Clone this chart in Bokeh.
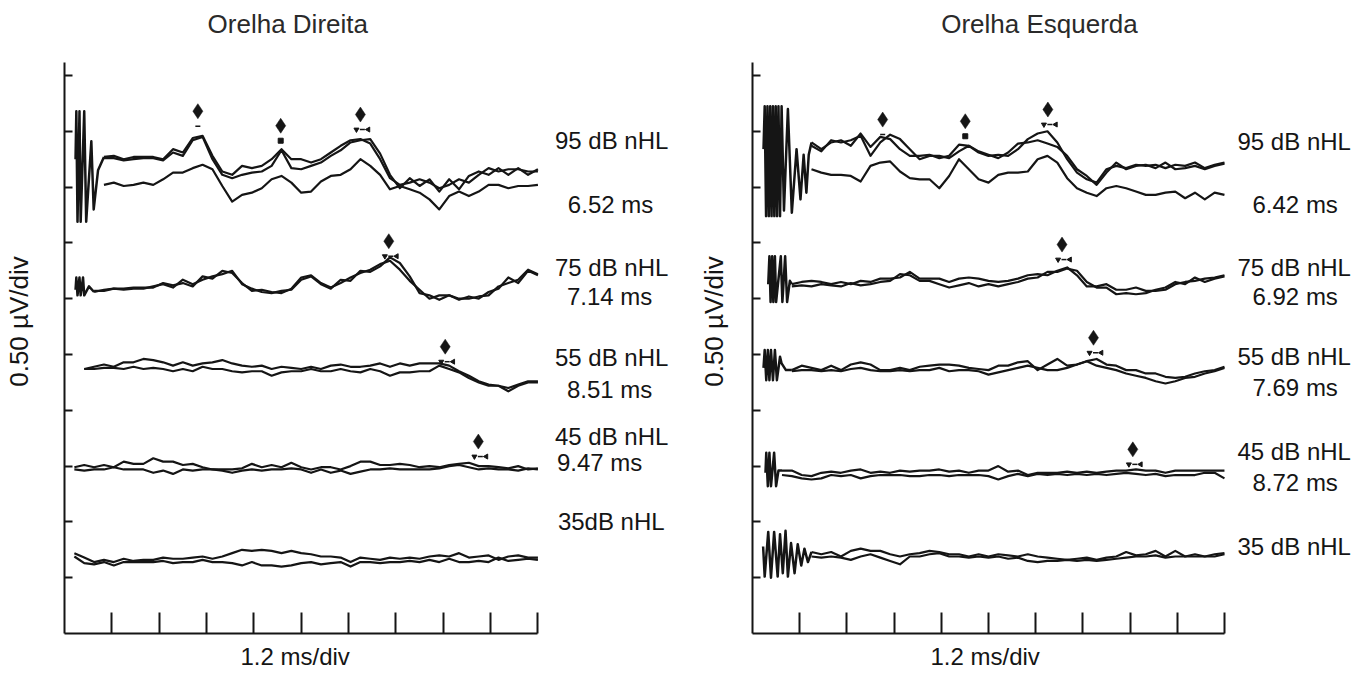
import math
from bokeh.plotting import figure
from bokeh.models import Range1d, FixedTicker, Label, ColumnDataSource, CustomJSTickFormatter, LinearAxis, Title
from bokeh.layouts import row
from bokeh.embed import file_html
from bokeh.resources import INLINE
from bokeh.core.properties import value

# ---------------- data ----------------
TIME = [0.25, 0.5, 0.75, 1.0, 1.25, 1.5, 1.75, 2.0, 2.25, 2.5, 2.75, 3.0,
        3.25, 3.5, 3.75, 4.0, 4.25, 4.5, 4.75, 5.0, 5.25, 5.5, 5.75, 6.0,
        6.25, 6.5, 6.75, 7.0, 7.25, 7.5, 7.75, 8.0, 8.25, 8.5, 8.75, 9.0,
        9.25, 9.5, 9.75, 10.0, 10.25, 10.5, 10.75, 11.0, 11.25, 11.5, 11.75, 12.0]

LEVELS = [95, 75, 55, 45, 35]
LEVEL_LABELS_DIR = ["95 dB nHL", "75 dB nHL", "55 dB nHL", "45 dB nHL", "35dB nHL"]
LEVEL_LABELS_ESQ = ["95 dB nHL", "75 dB nHL", "55 dB nHL", "45 dB nHL", "35 dB nHL"]
LATENCY_DIR = ["6.52 ms", "7.14 ms", "8.51 ms", "9.47 ms"]
LATENCY_ESQ = ["6.42 ms", "6.92 ms", "7.69 ms", "8.72 ms"]

# ---- Orelha Direita (right ear), values in uV relative to each trace's own baseline
DIR_95_A = [0.02, 0.03, 0.0, 0.02, 0.02, 0.02, 0.0, 0.09, 0.06, 0.19, 0.21, 0.03, -0.11, -0.14, -0.06,
            -0.08, -0.06, 0.0, 0.09, 0.0, 0.0, -0.03, 0.0, 0.06, 0.12, 0.17, 0.18, 0.14, 0.0, -0.17,
            -0.23, -0.21, -0.18, -0.21, -0.26, -0.23, -0.18, -0.21, -0.14, -0.08, -0.11, -0.09, -0.09, -0.11, -0.11]
DIR_95_B = [0.01, 0.01, -0.01, 0.0, 0.01, 0.01, -0.01, 0.06, 0.03, 0.17, 0.20, 0.0, -0.14, -0.17, -0.14,
            -0.12, -0.11, -0.06, 0.08, -0.08, -0.09, -0.06, -0.03, 0.03, 0.08, 0.15, 0.17, 0.18, 0.05, -0.14,
            -0.26, -0.17, -0.24, -0.18, -0.29, -0.18, -0.27, -0.15, -0.11, -0.14, -0.08, -0.14, -0.08, -0.14, -0.09]
DIR_95_C = [-0.23, -0.21, -0.24, -0.23, -0.21, -0.23, -0.18, -0.12, -0.12, -0.08, -0.05, -0.09, -0.24, -0.38, -0.32,
            -0.30, -0.26, -0.18, -0.15, -0.21, -0.30, -0.29, -0.20, -0.15, -0.14, -0.09, 0.0, -0.06, -0.14, -0.27,
            -0.24, -0.27, -0.30, -0.36, -0.45, -0.33, -0.29, -0.33, -0.29, -0.23, -0.23, -0.26, -0.24, -0.24, -0.23]
DIR_75_A = [-0.02, 0.0, 0.01, 0.01, 0.02, 0.02, 0.02, 0.06, 0.04, 0.06, 0.03, 0.12, 0.10, 0.17, 0.15, 0.06,
            -0.01, 0.0, -0.02, -0.03, 0.01, 0.11, 0.13, 0.06, 0.02, 0.06, 0.11, 0.15, 0.18, 0.23, 0.26, 0.18,
            0.08, 0.0, -0.08, -0.05, -0.05, -0.08, -0.08, -0.06, -0.05, 0.03, 0.06, 0.09, 0.18, 0.14]
DIR_75_B = [-0.01, -0.01, 0.01, 0.0, 0.01, 0.01, 0.03, 0.05, 0.02, 0.09, 0.05, 0.09, 0.12, 0.14, 0.17, 0.05,
            0.01, -0.02, -0.03, -0.01, 0.0, 0.09, 0.12, 0.05, 0.01, 0.09, 0.08, 0.17, 0.16, 0.21, 0.29, 0.24,
            0.12, -0.03, -0.05, -0.09, -0.05, -0.09, -0.06, -0.08, -0.02, 0.01, 0.11, 0.06, 0.17, 0.13]
DIR_55_A = [0.0, 0.02, 0.04, 0.02, 0.06, 0.06, 0.09, 0.08, 0.06, 0.03, 0.06, 0.03, 0.05, 0.06, 0.08, 0.05,
            0.03, 0.02, 0.03, 0.0, 0.02, 0.01, 0.0, 0.02, 0.0, 0.03, 0.04, 0.02, 0.02, 0.03, 0.05, 0.02,
            0.05, 0.03, 0.05, 0.05, 0.05, 0.03, -0.02, -0.06, -0.11, -0.14, -0.15, -0.17, -0.14, -0.11, -0.11]
DIR_55_B = [0.0, 0.0, 0.01, 0.01, 0.0, 0.02, 0.0, 0.01, 0.0, -0.02, 0.0, -0.02, 0.02, 0.0, 0.0, -0.02,
            -0.03, -0.02, -0.02, -0.06, -0.03, -0.02, -0.02, 0.0, -0.02, -0.02, 0.0, -0.02, -0.03, 0.0, -0.02, -0.06,
            -0.03, -0.03, -0.02, -0.02, 0.03, 0.0, -0.03, -0.08, -0.12, -0.15, -0.15, -0.20, -0.15, -0.12, -0.12]
DIR_45_A = [0.0, 0.02, 0.0, 0.02, 0.0, 0.05, 0.03, 0.03, 0.08, 0.05, 0.05, 0.02, 0.03, 0.0, -0.02, -0.02,
            -0.02, -0.01, 0.03, 0.0, 0.02, 0.0, 0.04, 0.0, -0.02, 0.0, 0.0, -0.02, 0.01, 0.05, 0.05, 0.02,
            0.02, 0.03, 0.02, 0.0, 0.01, 0.0, 0.02, 0.03, 0.04, 0.01, 0.01, 0.0, -0.01, 0.01, -0.02, -0.01]
DIR_45_B = [-0.02, -0.03, -0.02, -0.02, 0.0, -0.02, -0.02, -0.02, -0.05, -0.03, -0.06, -0.02, -0.03, -0.02, -0.02, -0.03,
            -0.05, -0.03, -0.02, -0.03, -0.02, -0.02, -0.01, -0.02, -0.05, -0.02, -0.05, -0.03, -0.06, -0.04, -0.02, -0.02,
            -0.01, -0.02, -0.02, -0.02, -0.02, -0.01, 0.01, 0.02, 0.0, -0.02, -0.01, -0.02, -0.02, -0.03, -0.01, -0.02]
DIR_35_A = [0.06, 0.02, -0.02, 0.0, -0.02, 0.01, -0.01, 0.0, 0.0, 0.02, 0.01, 0.01, 0.02, 0.03, 0.01, 0.03,
            0.06, 0.09, 0.08, 0.09, 0.08, 0.06, 0.08, 0.06, 0.05, 0.03, 0.03, 0.02, -0.02, 0.02, 0.01, 0.0,
            0.02, 0.01, 0.02, 0.01, 0.03, 0.04, 0.03, 0.06, 0.02, 0.03, 0.04, 0.0, 0.03, 0.04, 0.02, 0.02]
DIR_35_B = [0.03, -0.03, -0.04, -0.02, -0.05, -0.02, -0.02, -0.02, -0.02, -0.01, -0.03, -0.02, -0.02, 0.0, -0.02, -0.02,
            -0.03, -0.05, -0.02, -0.05, -0.05, -0.06, -0.05, -0.03, -0.02, -0.04, -0.03, -0.02, -0.06, -0.02, -0.02, -0.03,
            -0.02, -0.02, -0.01, -0.02, 0.0, -0.02, 0.01, -0.02, -0.02, -0.01, -0.02, 0.02, -0.01, 0.0, 0.01, 0.0]

# stimulus artefacts (time in ms, uV)
ART_DIR_95_T = [0.28, 0.30, 0.33, 0.38, 0.41, 0.50, 0.55, 0.68, 0.74, 0.85, 1.0]
ART_DIR_95_V = [0.0, 0.43, -0.56, 0.43, -0.56, 0.43, -0.56, 0.16, -0.45, -0.10, 0.02]
ART_DIR_75_T = [0.28, 0.30, 0.33, 0.38, 0.41, 0.47, 0.50, 0.62, 0.75]
ART_DIR_75_V = [0.0, 0.11, -0.05, 0.11, -0.05, 0.11, -0.05, 0.03, -0.02]

# ---- Orelha Esquerda (left ear)
ESQ_95_A = [0.06, 0.0, 0.06, 0.08, 0.03, 0.14, 0.02, 0.11, 0.09, 0.0, -0.06, -0.06, -0.05, -0.08, -0.06,
            0.04, 0.03, -0.03, -0.06, -0.05, -0.06, 0.0, 0.09, 0.14, 0.16, 0.06, -0.09, -0.21, -0.27, -0.30,
            -0.18, -0.15, -0.17, -0.14, -0.15, -0.14, -0.17, -0.14, -0.15, -0.12, -0.17, -0.14, -0.12]
ESQ_95_B = [0.03, -0.02, 0.08, 0.06, 0.08, 0.12, -0.06, 0.06, 0.13, 0.09, 0.0, -0.09, -0.06, -0.06, -0.08,
            -0.02, 0.03, -0.02, -0.05, -0.08, -0.03, 0.05, 0.06, 0.08, 0.05, 0.02, -0.06, -0.18, -0.24, -0.32,
            -0.21, -0.12, -0.18, -0.15, -0.14, -0.17, -0.12, -0.18, -0.17, -0.15, -0.18, -0.15, -0.13]
ESQ_95_C = [-0.18, -0.21, -0.23, -0.23, -0.24, -0.29, -0.15, -0.12, -0.11, -0.20, -0.26, -0.27, -0.27, -0.35, -0.24,
            -0.09, -0.18, -0.27, -0.30, -0.23, -0.21, -0.21, -0.20, -0.09, -0.06, -0.12, -0.26, -0.35, -0.39, -0.42,
            -0.35, -0.33, -0.35, -0.38, -0.41, -0.41, -0.39, -0.38, -0.44, -0.39, -0.45, -0.39, -0.41]
ESQ_75_A = [0.0, 0.02, 0.03, 0.02, 0.0, 0.02, 0.0, 0.03, 0.02, 0.05, 0.05, 0.06, 0.11, 0.05, 0.05,
            0.05, 0.02, 0.05, 0.06, 0.05, 0.03, 0.02, 0.03, 0.05, 0.08, 0.09, 0.08, 0.12, 0.15, 0.08,
            -0.02, -0.02, 0.0, -0.05, -0.05, -0.03, -0.06, -0.06, -0.05, 0.0, 0.02, 0.03, 0.05, 0.06, 0.08]
ESQ_75_B = [-0.02, -0.01, -0.02, 0.0, -0.01, -0.02, 0.01, -0.01, 0.0, 0.02, 0.03, 0.09, 0.08, 0.03, 0.03,
            0.0, -0.03, -0.01, 0.01, -0.02, 0.0, -0.02, 0.0, 0.02, 0.05, 0.06, 0.11, 0.11, 0.14, 0.12,
            0.02, -0.03, -0.03, -0.09, -0.08, -0.09, -0.08, -0.05, -0.03, 0.02, 0.0, 0.06, 0.02, 0.05, 0.07]
ESQ_55_A = [-0.02, 0.02, 0.0, -0.02, 0.02, -0.02, 0.03, 0.05, 0.03, -0.02, -0.02, 0.0, -0.02, 0.01, 0.02,
            0.03, 0.03, 0.02, 0.0, -0.01, -0.02, 0.02, 0.02, 0.05, 0.06, -0.02, 0.03, 0.08, 0.02, 0.03,
            0.06, 0.08, 0.03, 0.02, -0.02, -0.02, -0.05, -0.05, -0.08, -0.09, -0.08, -0.05, -0.03, -0.02, 0.01]
ESQ_55_B = [-0.03, -0.02, -0.02, -0.03, -0.02, -0.03, -0.01, 0.0, -0.02, -0.03, -0.03, -0.02, -0.03, -0.02, -0.02,
            0.0, -0.03, -0.02, -0.02, -0.03, -0.06, -0.04, -0.02, 0.0, 0.02, 0.0, -0.02, -0.02, 0.0, 0.03,
            0.06, 0.02, 0.0, -0.02, -0.05, -0.07, -0.09, -0.12, -0.14, -0.12, -0.09, -0.08, -0.05, -0.03, 0.0]
ESQ_45_A = [0.02, 0.02, -0.02, -0.03, 0.0, 0.01, 0.0, 0.02, 0.03, 0.0, 0.01, 0.0, 0.02, 0.01, 0.02, 0.02,
            0.03, 0.01, 0.02, 0.0, 0.02, 0.02, 0.06, 0.01, 0.02, -0.02, 0.0, 0.0, 0.0, 0.01, 0.0, 0.01,
            0.0, 0.01, 0.02, 0.02, 0.03, 0.02, 0.02, 0.0, 0.02, 0.02, 0.02, 0.02, 0.02, 0.02]
ESQ_45_B = [-0.02, -0.03, -0.05, -0.06, -0.05, -0.02, -0.03, -0.02, -0.05, -0.03, -0.02, -0.02, -0.02, -0.03, -0.03, -0.02,
            -0.02, -0.03, -0.02, -0.02, -0.02, -0.03, -0.06, -0.03, -0.01, -0.03, -0.01, -0.02, -0.01, -0.02, -0.01, -0.02,
            -0.01, -0.02, -0.01, 0.0, -0.01, -0.02, -0.01, -0.03, -0.02, -0.02, -0.02, 0.0, 0.0, -0.05]
ESQ_35_A = [0.02, 0.0, 0.02, -0.02, 0.03, 0.05, 0.03, 0.03, 0.0, -0.02, 0.0, 0.01, 0.03, 0.02, 0.0,
            0.0, -0.02, 0.0, -0.02, 0.0, -0.01, -0.02, 0.0, -0.02, -0.03, -0.04, -0.05, -0.04, -0.03, -0.05,
            -0.03, -0.02, 0.02, -0.01, 0.0, 0.03, -0.02, 0.03, -0.02, 0.0, -0.02, 0.0, 0.01]
ESQ_35_B = [-0.02, -0.03, -0.02, -0.03, -0.05, -0.02, 0.0, -0.03, -0.06, -0.09, -0.02, -0.02, 0.0, 0.01, -0.02,
            -0.02, -0.03, -0.02, -0.03, -0.02, -0.04, -0.03, -0.06, -0.07, -0.06, -0.06, -0.05, -0.06, -0.05, -0.06,
            -0.05, -0.04, -0.03, -0.02, -0.02, -0.01, -0.03, -0.02, -0.02, -0.02, -0.02, -0.02, 0.0]

ART_ESQ_95_T = [0.28, 0.31, 0.345, 0.38, 0.415, 0.45, 0.485, 0.52, 0.555, 0.59, 0.625, 0.66, 0.70, 0.74,
                0.80, 0.90, 1.0, 1.12, 1.22, 1.30, 1.37, 1.43, 1.5]
ART_ESQ_95_V = [0.0, 0.385, -0.60, 0.385, -0.60, 0.385, -0.60, 0.385, -0.60, 0.385, -0.60, 0.385, -0.60, 0.385,
                -0.55, 0.36, -0.57, 0.0, -0.45, -0.05, -0.39, -0.05, 0.06]
ART_ESQ_75_T = [0.40, 0.43, 0.46, 0.50, 0.53, 0.57, 0.60, 0.72, 0.76, 0.83, 0.88, 0.95, 1.0]
ART_ESQ_75_V = [0.0, 0.25, -0.16, 0.25, -0.16, 0.25, -0.16, 0.25, -0.16, 0.25, -0.16, 0.03, 0.0]
ART_ESQ_55_T = [0.28, 0.31, 0.35, 0.39, 0.43, 0.47, 0.52, 0.57, 0.62, 0.70, 0.74, 0.85, 1.0]
ART_ESQ_55_V = [0.0, 0.16, -0.11, 0.16, -0.11, 0.16, -0.11, 0.16, -0.11, 0.10, 0.04, -0.02, -0.02]
ART_ESQ_45_T = [0.33, 0.35, 0.39, 0.43, 0.47, 0.55, 0.60, 0.66, 0.75]
ART_ESQ_45_V = [0.0, 0.18, -0.12, 0.18, -0.12, 0.18, -0.12, 0.02, 0.02]
ART_ESQ_35_T = [0.27, 0.31, 0.40, 0.47, 0.55, 0.64, 0.70, 0.77, 0.84, 0.90, 0.98, 1.07, 1.15, 1.24, 1.32, 1.41, 1.5]
ART_ESQ_35_V = [0.07, -0.20, 0.20, -0.21, 0.20, -0.20, 0.18, -0.17, 0.21, -0.20, 0.10, -0.17, 0.09, -0.10, 0.05, -0.07, 0.02]

# peak markers: latency (ms) and marker height above the trace baseline (uV)
PEAK_DIR_T = [[3.38, 5.48, 7.50], [8.22], [9.65], [10.49]]
PEAK_DIR_H = [[0.43, 0.30, 0.40], [0.435], [0.20], [0.23]]
PEAK_ESQ_T = [[3.31, 5.41, 7.51], [7.87], [8.67], [9.67]]
PEAK_ESQ_H = [[0.265, 0.25, 0.355], [0.355], [0.27], [0.21]]
PEAK_KIND = [["I", "III", "V"], ["V"], ["V"], ["V"]]

# ---------------- layout ----------------
PX_PER_UV = 111.6          # 0.50 uV per division of 55.8 px
ORIGIN = 1                 # page offset of the layout's top-left corner
FIG_H = 677
BORDER_TOP = 10 - ORIGIN
AXIS_BOTTOM_PAGE = 634
BORDER_BOTTOM = FIG_H - (AXIS_BOTTOM_PAGE - ORIGIN)
FRAME_H = FIG_H - BORDER_TOP - BORDER_BOTTOM
Y_END = FRAME_H / PX_PER_UV
INK = "#151515"
FONT = "Liberation Sans"
XLAB_HALF_WIDTH = 54       # half the rendered width of "1.2 ms/div" at 24px


def uv_at(page_y):
    return (AXIS_BOTTOM_PAGE - page_y) / PX_PER_UV


def tail_time(vals):
    return TIME[len(TIME) - len(vals):]


def build(side):
    if side == "dir":
        g = dict(width=683, fig_left_page=ORIGIN, px_ms=39.58, frame_left_page=63,
                 offsets=[4.25, 3.08, 2.37, 1.49, 0.66],
                 traces=[[DIR_95_A, DIR_95_B, DIR_95_C], [DIR_75_A, DIR_75_B], [DIR_55_A, DIR_55_B],
                         [DIR_45_A, DIR_45_B], [DIR_35_A, DIR_35_B]],
                 arts=[(ART_DIR_95_T, ART_DIR_95_V), (ART_DIR_75_T, ART_DIR_75_V), None, None, None],
                 peaks_t=PEAK_DIR_T, peaks_h=PEAK_DIR_H,
                 lvl_labels=LEVEL_LABELS_DIR, lat=LATENCY_DIR,
                 lvl_x=[555, 555, 555, 555, 558], lvl_y=[141, 268, 358, 437, 522],
                 lat_x=[568, 567, 567, 557], lat_y=[205, 297, 390, 463],
                 title="Orelha Direita", title_x=287, ylab_standoff=31, xlab_center=293)
    else:
        g = dict(width=680, fig_left_page=ORIGIN + 683, px_ms=39.33, frame_left_page=753,
                 offsets=[4.34, 3.13, 2.38, 1.44, 0.71],
                 traces=[[ESQ_95_A, ESQ_95_B, ESQ_95_C], [ESQ_75_A, ESQ_75_B], [ESQ_55_A, ESQ_55_B],
                         [ESQ_45_A, ESQ_45_B], [ESQ_35_A, ESQ_35_B]],
                 arts=[(ART_ESQ_95_T, ART_ESQ_95_V), (ART_ESQ_75_T, ART_ESQ_75_V), (ART_ESQ_55_T, ART_ESQ_55_V),
                       (ART_ESQ_45_T, ART_ESQ_45_V), (ART_ESQ_35_T, ART_ESQ_35_V)],
                 peaks_t=PEAK_ESQ_T, peaks_h=PEAK_ESQ_H,
                 lvl_labels=LEVEL_LABELS_ESQ, lat=LATENCY_ESQ,
                 lvl_x=[1238, 1238, 1238, 1238, 1238], lvl_y=[142, 268, 357, 452, 547],
                 lat_x=[1253, 1253, 1253, 1253], lat_y=[205, 297, 388, 483],
                 title="Orelha Esquerda", title_x=1040, ylab_standoff=24, xlab_center=985)

    border_left = g["frame_left_page"] - g["fig_left_page"]
    frame_w = g["width"] - border_left
    x_end = frame_w / g["px_ms"]

    def t_at(page_x):
        return (page_x - g["frame_left_page"]) / g["px_ms"]

    p = figure(width=g["width"], height=FIG_H, x_range=Range1d(0, x_end), y_range=Range1d(0, Y_END),
               output_backend="svg", toolbar_location=None,
               min_border_left=border_left, min_border_right=0,
               min_border_top=BORDER_TOP, min_border_bottom=BORDER_BOTTOM)
    p.grid.visible = False
    p.outline_line_color = None
    p.background_fill_color = "white"
    p.border_fill_color = "white"

    empty = CustomJSTickFormatter(code="return ''")
    p.xaxis.ticker = FixedTicker(ticks=[1.2, 2.4, 3.6, 4.8, 6.0, 7.2, 8.4, 9.6, 10.8, 12.0])
    p.xaxis.bounds = (0, 12.0)
    p.xaxis.major_tick_in = 21
    p.xaxis.major_tick_out = 0
    p.yaxis.ticker = FixedTicker(ticks=[0.5, 1.0, 1.5, 2.0, 2.5, 3.0, 3.5, 4.0, 4.5, 5.0])
    p.yaxis.bounds = (0, 5.12)
    p.yaxis.major_tick_in = 8
    p.yaxis.major_tick_out = 0
    for ax in (p.xaxis, p.yaxis):
        ax.formatter = empty
        ax.minor_tick_in = 0
        ax.minor_tick_out = 0
        ax.axis_line_width = 2
        ax.axis_line_color = INK
        ax.major_tick_line_width = 2
        ax.major_tick_line_color = INK
        ax.major_label_standoff = 0

    # y axis title (label-only axis on the left; centred on the frame like the original)
    ylab = LinearAxis(ticker=FixedTicker(ticks=[]), formatter=empty,
                      axis_line_color=None, major_tick_line_color=None, minor_tick_line_color=None,
                      axis_label="0.50 µV/div", axis_label_text_font=FONT, axis_label_text_font_size="26px",
                      axis_label_text_font_style="normal", axis_label_text_color=INK,
                      axis_label_standoff=g["ylab_standoff"], major_label_standoff=0)
    p.add_layout(ylab, "left")
    # x axis title, placed under the 0-12 ms span of the axis
    p.add_layout(Title(text="1.2 ms/div", align="left",
                       offset=g["xlab_center"] - XLAB_HALF_WIDTH - g["frame_left_page"],
                       text_font=FONT, text_font_size="24px", text_font_style="normal",
                       text_color=INK, standoff=14), "below")

    # traces
    for i, lvl in enumerate(LEVELS):
        off = g["offsets"][i]
        art = g["arts"][i]
        if art is not None:
            p.line(art[0], [off + v for v in art[1]], line_color=INK, line_width=2.5, line_join="round")
        for tr in g["traces"][i]:
            p.line(tail_time(tr), [off + v for v in tr], line_color=INK, line_width=2.2, line_join="round")

    # peak markers
    dx, dy, sq_x, sq_y, tri_x, tri_y, tl_x, tl_y, dash_x, dash_y = ([] for _ in range(10))
    gap = 15 / PX_PER_UV
    for i, (ts, hs) in enumerate(zip(g["peaks_t"], g["peaks_h"])):
        off = g["offsets"][i]
        for t, h, kind in zip(ts, hs, PEAK_KIND[i]):
            dx.append(t)
            dy.append(off + h)
            my = off + h - gap
            if kind == "I":
                dash_x.append(t)
                dash_y.append(my)
            elif kind == "III":
                sq_x.append(t)
                sq_y.append(my)
            else:
                tri_x.append(t - 0.1)
                tri_y.append(my)
                tl_x.append(t + 0.2)
                tl_y.append(my)
                dash_x.append(t + 0.05)
                dash_y.append(my)
    p.scatter(dx, dy, marker="diamond", size=15, fill_color=INK, line_color=INK, line_width=0.5)
    p.scatter(sq_x, sq_y, marker="square", size=5, fill_color=INK, line_color=INK)
    p.scatter(tri_x, tri_y, marker="inverted_triangle", size=5, fill_color=INK, line_color=INK)
    p.scatter(tl_x, tl_y, marker="triangle", angle=math.pi / 2, size=5, fill_color=INK, line_color=INK)
    p.scatter(dash_x, dash_y, marker="dash", size=5, line_color=INK, line_width=1.5)

    # level and latency labels
    src = ColumnDataSource(dict(
        x=[t_at(v) for v in g["lvl_x"]] + [t_at(v) for v in g["lat_x"]],
        y=[uv_at(v) for v in g["lvl_y"]] + [uv_at(v) for v in g["lat_y"]],
        text=list(g["lvl_labels"]) + list(g["lat"]),
    ))
    p.text(x="x", y="y", text="text", source=src, text_font=value(FONT), text_font_size="24px",
           text_color=INK, text_align="left", text_baseline="middle")

    # panel title
    p.add_layout(Label(x=t_at(g["title_x"]), y=uv_at(24), text=g["title"], text_font=FONT,
                       text_font_size="26px", text_color="#2a2a2a", text_align="center",
                       text_baseline="middle"))
    return p


layout = row(build("dir"), build("esq"), spacing=0)
open("out.html", "w").write(file_html(layout, INLINE))
